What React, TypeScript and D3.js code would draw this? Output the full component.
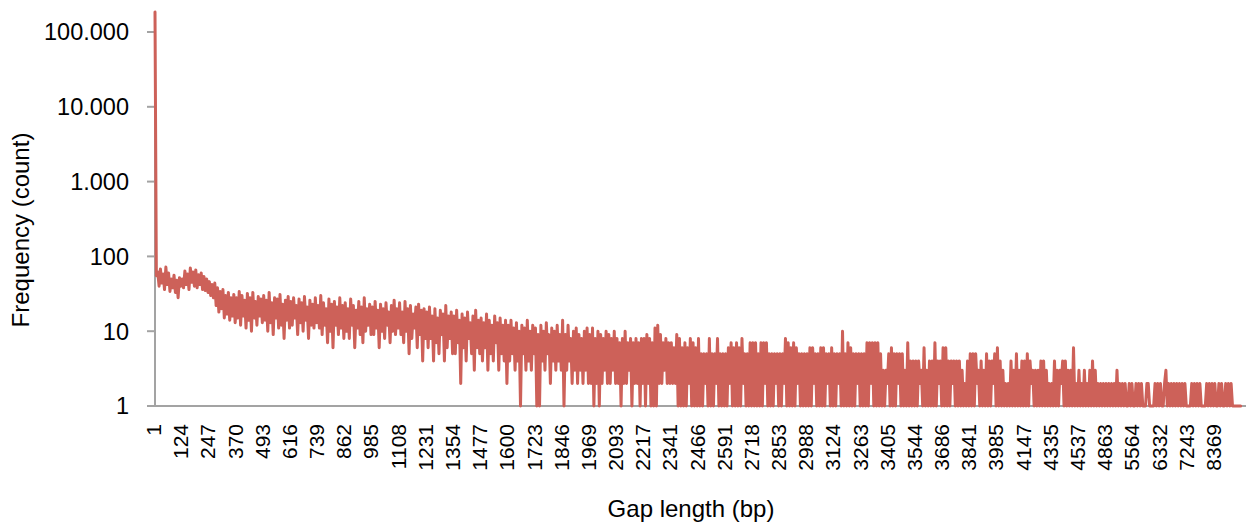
import React from 'react';
import * as d3 from 'd3';

// ---- data ----
const xTickLabels = ['1','124','247','370','493','616','739','862','985','1108','1231','1354','1477','1600','1723','1846','1969','2093','2217','2341','2466','2591','2718','2853','2988','3124','3263','3405','3544','3686','3841','3985','4147','4335','4537','4863','5564','6332','7243','8369'];
const CATS_PER_LABEL = 123;
const CATEGORY_COUNT = 4920;
const yTicks = [1, 10, 100, 1000, 10000, 100000];

// frequency values, one row per labelled block of 123 categories (sampled)
const freqBlocks: number[][] = [
  [185000, 55, 62, 40, 68, 44, 58, 36, 72, 42, 60, 34, 50, 38, 56, 33, 48, 28, 52, 40],
  [50, 38, 64, 42, 58, 36, 70, 45, 62, 40, 66, 38, 57, 42, 60, 36, 54, 35, 50, 33],
  [46, 30, 42, 28, 44, 22, 38, 18, 34, 20, 36, 15, 30, 17, 33, 14, 28, 16, 31, 13],
  [28, 15, 34, 12, 30, 16, 26, 11, 32, 14, 28, 10, 33, 15, 25, 12, 29, 16, 27, 13],
  [30, 14, 26, 10, 33, 13, 24, 9, 28, 15, 27, 11, 31, 12, 23, 8, 26, 14, 29, 11],
  [25, 12, 28, 15, 22, 9, 27, 13, 24, 10, 29, 14, 21, 8, 26, 12, 23, 11, 28, 13],
  [22, 11, 30, 9, 24, 12, 20, 7, 27, 10, 23, 6, 25, 12, 21, 9, 28, 11, 22, 8],
  [24, 10, 20, 8, 27, 12, 22, 6, 19, 11, 25, 9, 21, 7, 28, 10, 20, 12, 23, 9],
  [21, 9, 25, 11, 19, 6, 23, 10, 20, 8, 24, 12, 18, 7, 22, 10, 26, 9, 20, 11],
  [24, 9, 18, 7, 25, 10, 20, 5, 22, 8, 17, 11, 21, 6, 23, 9, 19, 4, 20, 8],
  [18, 6, 21, 8, 16, 4, 20, 7, 15, 5, 19, 9, 17, 4, 22, 6, 16, 8, 18, 5],
  [16, 5, 19, 7, 14, 2, 17, 6, 15, 4, 18, 8, 13, 5, 16, 3, 19, 6, 14, 5],
  [15, 4, 13, 6, 17, 3, 14, 5, 12, 4, 16, 7, 13, 3, 15, 5, 12, 4, 14, 2],
  [12, 4, 14, 5, 11, 3, 13, 4, 10, 1, 12, 5, 11, 3, 14, 4, 10, 3, 12, 5],
  [11, 1, 9, 1, 12, 4, 10, 3, 13, 5, 9, 2, 11, 4, 10, 3, 12, 4, 9, 3],
  [14, 1, 9, 3, 12, 4, 8, 2, 10, 3, 11, 2, 9, 3, 8, 2, 10, 3, 11, 2],
  [9, 2, 11, 1, 8, 2, 10, 1, 9, 2, 8, 3, 10, 2, 9, 2, 8, 3, 10, 2],
  [8, 2, 7, 1, 8, 2, 10, 2, 7, 3, 8, 1, 7, 2, 8, 2, 7, 1, 8, 2],
  [8, 1, 9, 2, 8, 1, 7, 1, 11, 1, 12, 2, 9, 2, 7, 3, 8, 2, 7, 2],
  [7, 2, 6, 2, 9, 1, 8, 1, 6, 1, 7, 1, 6, 2, 8, 1, 7, 1, 6, 1],
  [8, 1, 5, 1, 5, 2, 5, 1, 8, 1, 5, 1, 5, 2, 8, 1, 5, 1, 5, 1],
  [5, 1, 6, 2, 7, 1, 6, 1, 7, 1, 6, 1, 8, 2, 5, 1, 5, 1, 7, 1],
  [7, 1, 7, 1, 5, 1, 7, 1, 7, 2, 7, 1, 5, 1, 5, 1, 5, 2, 5, 1],
  [5, 1, 5, 2, 8, 1, 7, 1, 6, 1, 7, 1, 6, 2, 5, 1, 5, 1, 5, 1],
  [5, 1, 6, 1, 6, 2, 5, 1, 5, 1, 6, 1, 6, 1, 5, 2, 5, 1, 6, 1],
  [5, 1, 5, 2, 5, 1, 10, 1, 5, 1, 7, 1, 6, 1, 5, 1, 5, 2, 5, 1],
  [5, 1, 5, 1, 7, 1, 7, 2, 7, 1, 7, 1, 7, 1, 5, 1, 3, 1, 3, 2],
  [5, 1, 6, 1, 5, 1, 5, 2, 5, 1, 5, 1, 3, 1, 7, 1, 4, 1, 4, 1],
  [4, 1, 4, 2, 3, 1, 6, 1, 3, 1, 4, 1, 4, 1, 7, 1, 4, 2, 4, 1],
  [6, 1, 6, 1, 4, 1, 4, 2, 4, 1, 4, 1, 4, 1, 3, 1, 2, 1, 4, 1],
  [5, 1, 5, 1, 5, 2, 3, 1, 4, 1, 3, 1, 5, 1, 4, 1, 4, 2, 5, 1],
  [6, 1, 4, 1, 3, 1, 2, 1, 2, 1, 4, 1, 3, 1, 5, 1, 3, 1, 4, 1],
  [4, 1, 5, 1, 4, 2, 3, 1, 3, 1, 3, 1, 4, 1, 4, 1, 3, 1, 2, 1],
  [2, 1, 4, 1, 3, 1, 3, 2, 4, 1, 4, 1, 3, 1, 3, 1, 6, 1, 2, 1],
  [3, 1, 2, 1, 3, 1, 2, 1, 3, 1, 4, 1, 3, 1, 2, 1, 2, 1, 2, 1],
  [2, 1, 2, 1, 2, 1, 2, 1, 3, 1, 2, 1, 2, 1, 2, 1, 1, 2, 1, 2],
  [1, 1, 2, 1, 2, 1, 2, 1, 1, 1, 2, 2, 1, 1, 1, 1, 2, 1, 2, 1],
  [2, 1, 1, 2, 3, 1, 2, 1, 2, 1, 2, 1, 2, 1, 2, 1, 2, 1, 2, 1],
  [1, 1, 1, 2, 1, 2, 1, 2, 1, 2, 1, 1, 1, 1, 2, 1, 2, 1, 2, 1],
  [2, 1, 1, 2, 1, 2, 1, 1, 2, 1, 2, 1, 2, 1, 1, 1, 1, 1, 1, 1],
];

const X_TITLE = 'Gap length (bp)';
const Y_TITLE = 'Frequency (count)';

// ---- layout ----
const W = 1258;
const H = 529;
const PLOT_LEFT = 155;
const PLOT_RIGHT = 1242;
const Y_BOTTOM = 406;
const Y_TOP_DECADE = 32; // position of 100.000
const AXIS_TOP = 12;
const LINE_COLOR = '#CD6159';
const AXIS_COLOR = '#A3A3A3';
const FONT = '"Liberation Sans", Arial, Helvetica, sans-serif';

const locale = d3.formatLocale({ decimal: ',', thousands: '.', grouping: [3], currency: ['', ''] });
const fmt = locale.format(',d');

export default function App() {
  const x = d3.scaleLinear().domain([0, CATEGORY_COUNT]).range([PLOT_LEFT, PLOT_RIGHT]);
  const y = d3.scaleLog().domain([1, 100000]).range([Y_BOTTOM, Y_TOP_DECADE]);

  const points: { c: number; v: number }[] = [];
  freqBlocks.forEach((row, k) => {
    row.forEach((v, j) => {
      points.push({ c: k * CATS_PER_LABEL + (j * CATS_PER_LABEL) / row.length, v });
    });
  });

  const line = d3
    .line<{ c: number; v: number }>()
    .x((d) => x(d.c))
    .y((d) => y(d.v));

  return (
    <svg width={W} height={H} style={{ position: 'absolute', left: 0, top: 0, background: '#fff' }}>
      {/* y axis */}
      <line x1={PLOT_LEFT} x2={PLOT_LEFT} y1={AXIS_TOP} y2={Y_BOTTOM + 1} stroke={AXIS_COLOR} strokeWidth={2} />
      {yTicks.map((t) => (
        <g key={t}>
          <line x1={PLOT_LEFT - 8} x2={PLOT_LEFT} y1={y(t)} y2={y(t)} stroke={AXIS_COLOR} strokeWidth={2} />
          <text
            x={129}
            y={y(t)}
            dy="0.36em"
            textAnchor="end"
            fontFamily={FONT}
            fontSize={23.5}
            fill="#000"
          >
            {fmt(t)}
          </text>
        </g>
      ))}
      {/* x axis */}
      <line x1={PLOT_LEFT - 8} x2={PLOT_RIGHT + 4} y1={Y_BOTTOM} y2={Y_BOTTOM} stroke={AXIS_COLOR} strokeWidth={2} />
      {xTickLabels.map((lab, i) => {
        const tx = x(i * CATS_PER_LABEL) - 1.5;
        return (
          <text
            key={lab}
            transform={`translate(${tx},424) rotate(-90)`}
            dy="0.36em"
            textAnchor="end"
            fontFamily={FONT}
            fontSize={21}
            fill="#000"
          >
            {lab}
          </text>
        );
      })}
      {/* series */}
      <path
        d={line(points) || ''}
        fill="none"
        stroke={LINE_COLOR}
        strokeWidth={3}
        strokeLinejoin="round"
        strokeLinecap="round"
      />
      {/* titles */}
      <text x={691} y={517} textAnchor="middle" fontFamily={FONT} fontSize={24} fill="#000">
        {X_TITLE}
      </text>
      <text
        transform={`translate(29,230) rotate(-90)`}
        textAnchor="middle"
        fontFamily={FONT}
        fontSize={24}
        fill="#000"
      >
        {Y_TITLE}
      </text>
    </svg>
  );
}
